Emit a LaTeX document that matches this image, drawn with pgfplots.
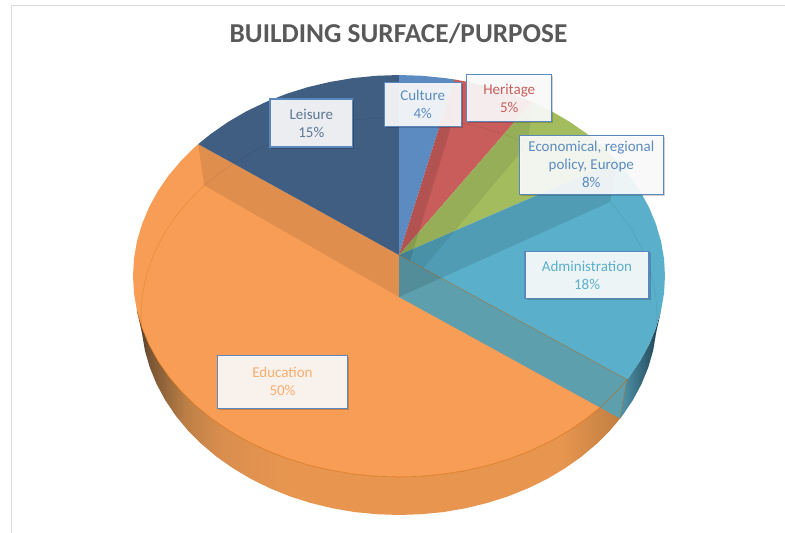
\documentclass[border=0pt]{standalone}
\usepackage{pgfplots}
\pgfplotsset{compat=1.18}
\usepackage{fontspec}
\setmainfont{Carlito}
\usetikzlibrary{shadows}
\definecolor{cLei}{HTML}{3F5E82}
\definecolor{cCul}{HTML}{5B8BC0}
\definecolor{cHer}{HTML}{C85D5B}
\definecolor{cEco}{HTML}{A2BC5E}
\definecolor{cAdm}{HTML}{5AB0CB}
\definecolor{cEdu}{HTML}{F79D55}
\definecolor{cGrey}{HTML}{5E9FAE}
\definecolor{boxline}{HTML}{5B87BF}
\definecolor{w1}{HTML}{4A3A2C}\definecolor{w2}{HTML}{7A5533}\definecolor{w3}{HTML}{BE8047}
\definecolor{w4}{HTML}{D98E4E}\definecolor{w5}{HTML}{E8964F}\definecolor{w6}{HTML}{BC7C40}
\definecolor{t1}{HTML}{5296AC}\definecolor{t2}{HTML}{3C7488}\definecolor{t3}{HTML}{1F3F50}
\pgfdeclarehorizontalshading{wallO}{100bp}{color(0bp)=(w1); color(25bp)=(w1); color(26.3bp)=(w2); color(30.1bp)=(w3); color(33.5bp)=(w4); color(40.3bp)=(w5); color(68.2bp)=(w5); color(75bp)=(w6); color(100bp)=(w6)}
\pgfdeclarehorizontalshading{wallT}{100bp}{color(0bp)=(t1); color(25bp)=(t1); color(45bp)=(t2); color(75bp)=(t3); color(100bp)=(t3)}
\tikzset{lab/.style={draw=boxline,line width=1.1pt,fill=white,fill opacity=.9,text opacity=1,align=center,inner sep=0pt,font=\fontsize{15}{18}\selectfont,
  drop shadow={shadow xshift=1.5pt,shadow yshift=-1.5pt,opacity=.18,fill=black}}}
\begin{document}
\begin{tikzpicture}
\path[use as bounding box] (0,0) rectangle (785pt,533pt);
\begin{axis}[scale only axis,width=785pt,height=533pt,xmin=0,xmax=785,ymin=0,ymax=533,y dir=reverse,axis lines=none,anchor=south west,at={(0,0)},clip=false]
% frame
\addplot[draw=black!15,line width=1pt] coordinates {(11,533)(11,5)(785,5)};
% side wall, Education
\addplot[draw=none,shading=wallO] coordinates {(620.1,418.5)(610.4,430.1)(596.6,443.9)(581.4,456.7)(564.8,468.4)(547,479)(528,488.3)(508,496.4)(487.2,503)(465.8,508.2)(443.8,512)(421.5,514.2)(399,515)(376.5,514.2)(354.2,512)(332.2,508.2)(310.8,503)(290,496.4)(270,488.3)(251,479)(233.2,468.4)(216.6,456.7)(201.4,443.9)(187.6,430.1)(175.6,415.5)(165.2,400.1)(156.6,384.1)(149.8,367.5)(144.9,350.6)(142,333.3)(137,310.9)(142.1,328)(149,344.7)(157.9,360.9)(168.6,376.5)(181.1,391.3)(195.2,405.2)(210.9,418.1)(228,430)(246.4,440.7)(266,450.1)(286.6,458.2)(308,464.9)(330.2,470.1)(352.8,473.9)(375.8,476.2)(399,477)(422.2,476.2)(445.2,473.9)(467.8,470.1)(490,464.9)(511.4,458.2)(532,450.1)(551.6,440.7)(570,430)(587.1,418.1)(602.8,405.2)(616.9,391.3)(627,379.5)} --cycle;
% side wall, Administration
\addplot[draw=none,shading=wallT] coordinates {(620.1,418.5)(622.4,415.5)(632.8,400.1)(641.4,384.1)(648.2,367.5)(653.1,350.6)(656,333.3)(661,310.9)(655.9,328)(649,344.7)(640.1,360.9)(629.4,376.5)(627,379.5)} --cycle;
% top faces
\addplot[fill=cEdu,draw=none] coordinates {(399,255)(627,379.5)(616.9,391.3)(602.8,405.2)(587.1,418.1)(570,430)(551.6,440.7)(532,450.1)(511.4,458.2)(490,464.9)(467.8,470.1)(445.2,473.9)(422.2,476.2)(399,477)(375.8,476.2)(352.8,473.9)(330.2,470.1)(308,464.9)(286.6,458.2)(266,450.1)(246.4,440.7)(228,430)(210.9,418.1)(195.2,405.2)(181.1,391.3)(168.6,376.5)(157.9,360.9)(149,344.7)(142.1,328)(137,310.9)(134,293.5)(133,276)(134,258.5)(137,241.1)(142.1,224)(149,207.3)(157.9,191.1)(168.6,175.5)(181.1,160.7)(195.2,146.8)(198.2,144.1)} --cycle;
\addplot[fill=cLei,draw=none] coordinates {(399,255)(198.2,144.1)(210.9,133.9)(228,122)(246.4,111.3)(266,101.9)(286.6,93.8)(308,87.1)(330.2,81.9)(352.8,78.1)(375.8,75.8)(399,75)} --cycle;
\addplot[fill=cCul,draw=none] coordinates {(399,255)(399,75)(422.2,75.8)(445.2,78.1)(454.3,79.4)} --cycle;
\addplot[fill=cHer,draw=none] coordinates {(399,255)(454.3,79.4)(467.8,81.9)(490,87.1)(511.4,93.8)(532,101.9)} --cycle;
\addplot[fill=cEco,draw=none] coordinates {(399,255)(532,101.9)(551.6,111.3)(570,122)(587.1,133.9)(602.8,146.8)(616.9,160.7)} --cycle;
\addplot[fill=cAdm,draw=none] coordinates {(399,255)(616.9,160.7)(629.4,175.5)(640.1,191.1)(649,207.3)(655.9,224)(661,241.1)(664,258.5)(665,276)(664,293.5)(661,310.9)(655.9,328)(649,344.7)(640.1,360.9)(629.4,376.5)(627,379.5)} --cycle;
% inner walls seen through the faces
\addplot[fill=black,fill opacity=.09,draw=none] coordinates {(399,255)(198.2,144.1)(204.2,185.4)(399,297)} --cycle;
\addplot[fill=black,fill opacity=.11,draw=none] coordinates {(399,255)(454.3,79.4)(452.6,121.4)(399,297)} --cycle;
\addplot[fill=black,fill opacity=.07,draw=none] coordinates {(399,255)(532,101.9)(528,143.7)(399,297)} --cycle;
\addplot[fill=cGrey,draw=none] coordinates {(399,255)(627,379.5)(620.1,418.5)(399,297)} --cycle;
\addplot[fill=black,fill opacity=.11,draw=none] coordinates {(399,255)(616.9,160.7)(610.4,201.9)(399,297)} --cycle;
% rim of the base seen through the faces
\addplot[draw=black,opacity=.08,line width=.6pt] coordinates {(204.2,185.4)(216.6,175.3)(233.2,163.6)(251,153)(270,143.7)(290,135.6)(310.8,129)(332.2,123.8)(354.2,120)(376.5,117.8)(399,117)};
\addplot[draw=black,opacity=.08,line width=.6pt] coordinates {(452.6,121.4)(465.8,123.8)(487.2,129)(508,135.6)(528,143.7)};
\addplot[draw=black,opacity=.08,line width=.6pt] coordinates {(610.4,201.9)(622.4,216.5)(632.8,231.9)(641.4,247.9)(648.2,264.5)(653.1,281.4)(656,298.7)(657,316)(656,333.3)(653.1,350.6)(648.2,367.5)(641.4,384.1)(632.8,400.1)(622.4,415.5)(620.1,418.5)};
\addplot[draw=orange!75!black,opacity=.25,line width=.6pt] coordinates {(142,333.3)(141,316)(142,298.7)(144.9,281.4)(149.8,264.5)(156.6,247.9)(165.2,231.9)(175.6,216.5)(187.6,201.9)(204.2,185.4)};
% rims of the Education slice
\addplot[draw=orange!80!black,opacity=.6,line width=.7pt] coordinates {(627,379.5)(616.9,391.3)(602.8,405.2)(587.1,418.1)(570,430)(551.6,440.7)(532,450.1)(511.4,458.2)(490,464.9)(467.8,470.1)(445.2,473.9)(422.2,476.2)(399,477)(375.8,476.2)(352.8,473.9)(330.2,470.1)(308,464.9)(286.6,458.2)(266,450.1)(246.4,440.7)(228,430)(210.9,418.1)(195.2,405.2)(181.1,391.3)(168.6,376.5)(157.9,360.9)(149,344.7)(142.1,328)(137,310.9)};
\addplot[draw=orange!70!black,opacity=.6,line width=.5pt] coordinates {(399,255)(627,379.5)(620.1,418.5)};
% title and labels
\node[font=\fontsize{27.3}{30}\bfseries\selectfont,text=black!65,anchor=center] at (axis cs:398.5,34) {BUILDING SURFACE/PURPOSE};
\node[lab,text=cLei!85!white,minimum width=82.7pt,minimum height=48pt] at (axis cs:311.3,123) {Leisure\\15\%};
\node[lab,text=cCul,minimum width=76.7pt,minimum height=44pt] at (axis cs:422.7,104.7) {Culture\\4\%};
\node[lab,text=cHer,minimum width=85pt,minimum height=47.4pt] at (axis cs:509.2,98) {Heritage\\5\%};
\node[lab,text=cCul,minimum width=144pt,minimum height=59.3pt] at (axis cs:591.3,164.7) {Economical, regional\\policy, Europe\\8\%};
\node[lab,text=cAdm,minimum width=124pt,minimum height=46.6pt] at (axis cs:587,275) {Administration\\18\%};
\node[lab,text=cEdu!85!white,minimum width=129.6pt,minimum height=53.3pt] at (axis cs:282.5,381.7) {Education\\50\%};
\end{axis}
\end{tikzpicture}
\end{document}
